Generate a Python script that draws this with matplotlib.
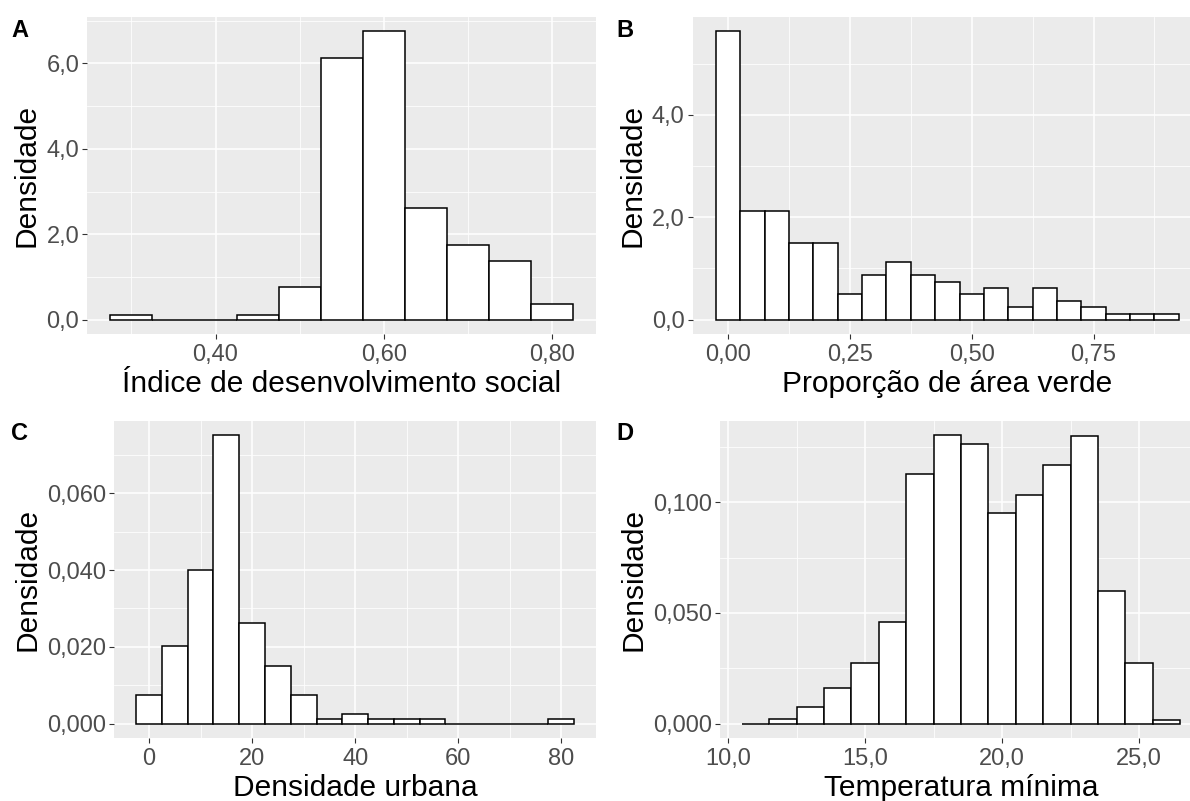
import numpy as np
import matplotlib
matplotlib.use("Agg")
import matplotlib.pyplot as plt
from matplotlib.ticker import FixedLocator, FuncFormatter

plt.rcParams['font.family'] = ['Liberation Sans', 'DejaVu Sans']

# A - Indice de desenvolvimento social (bin width 0.05)
ids_centers = [0.30, 0.35, 0.40, 0.45, 0.50, 0.55, 0.60, 0.65, 0.70, 0.75, 0.80]
ids_density = [0.117, 0.0, 0.0, 0.117, 0.756, 6.12, 6.75, 2.62, 1.74, 1.38, 0.366]

# B - Proporcao de area verde (bin width 0.05)
verde_centers = [0.00, 0.05, 0.10, 0.15, 0.20, 0.25, 0.30, 0.35, 0.40, 0.45,
                 0.50, 0.55, 0.60, 0.65, 0.70, 0.75, 0.80, 0.85, 0.90]
verde_density = [5.63, 2.12, 2.12, 1.49, 1.49, 0.494, 0.872, 1.119, 0.872, 0.741,
                 0.494, 0.624, 0.247, 0.624, 0.371, 0.247, 0.117, 0.117, 0.117]

# C - Densidade urbana (bin width 5)
urb_centers = [0, 5, 10, 15, 20, 25, 30, 35, 40, 45, 50, 55, 60, 65, 70, 75, 80]
urb_density = [0.0075, 0.0201, 0.0400, 0.0751, 0.0263, 0.0151, 0.0075, 0.0012, 0.0024,
               0.0012, 0.0012, 0.0012, 0.0, 0.0, 0.0, 0.0, 0.0012]

# D - Temperatura minima (bin width 1)
temp_centers = [11, 12, 13, 14, 15, 16, 17, 18, 19, 20, 21, 22, 23, 24, 25, 26]
temp_density = [0.0, 0.0023, 0.0074, 0.0161, 0.0273, 0.0458, 0.1128, 0.1302, 0.1264,
                0.0952, 0.1032, 0.117, 0.1299, 0.0601, 0.0273, 0.0014]

W, H = 1190, 801
fig = plt.figure(figsize=(W / 100, H / 100), dpi=100)


def px_axes(x0, x1, y0, y1):
    return fig.add_axes([x0 / W, 1 - y1 / H, (x1 - x0) / W, (y1 - y0) / H])


def comma_fmt(decimals):
    return FuncFormatter(lambda v, p: f"{v:.{decimals}f}".replace('.', ','))


def histpanel(ax, centers, dens, width, xmaj, xmin, ymaj, ymin, xdec, ydec, xlabel):
    ax.set_facecolor('#EBEBEB')
    ax.bar(centers, dens, width=width, color='white', edgecolor='black',
           linewidth=1.1, zorder=3)
    lo = centers[0] - width / 2
    hi = centers[-1] + width / 2
    top = max(dens)
    ax.set_xlim(lo - 0.05 * (hi - lo), hi + 0.05 * (hi - lo))
    ax.set_ylim(-0.05 * top, 1.05 * top)
    ax.xaxis.set_major_locator(FixedLocator(xmaj))
    ax.xaxis.set_minor_locator(FixedLocator(xmin))
    ax.yaxis.set_major_locator(FixedLocator(ymaj))
    ax.yaxis.set_minor_locator(FixedLocator(ymin))
    ax.xaxis.set_major_formatter(comma_fmt(xdec))
    ax.yaxis.set_major_formatter(comma_fmt(ydec))
    ax.grid(which='major', color='white', linewidth=1.1, zorder=0)
    ax.grid(which='minor', color='white', linewidth=0.55, zorder=0)
    ax.set_axisbelow(True)
    for s in ax.spines.values():
        s.set_visible(False)
    ax.tick_params(which='major', length=3.3, width=0.8, color='#333333',
                   labelcolor='#4D4D4D', labelsize=17, pad=2.5)
    ax.tick_params(axis='x', which='major', pad=4)
    ax.tick_params(which='minor', length=0)
    ax.set_xlabel(xlabel, fontsize=21.5, color='black', labelpad=3)
    ax.set_ylabel('Densidade', fontsize=21.5, color='black', labelpad=4)


axA = px_axes(87.3, 596, 17, 334)
histpanel(axA, ids_centers, ids_density, 0.05,
          [0.4, 0.6, 0.8], [0.3, 0.5, 0.7], [0, 2, 4, 6], [1, 3, 5, 7],
          2, 1, 'Índice de desenvolvimento social')

axB = px_axes(692.7, 1202, 17, 334)
histpanel(axB, verde_centers, verde_density, 0.05,
          [0, 0.25, 0.5, 0.75], [0.125, 0.375, 0.625, 0.875], [0, 2, 4], [1, 3, 5],
          2, 1, 'Proporção de área verde')

axC = px_axes(114.3, 596, 421, 738)
histpanel(axC, urb_centers, urb_density, 5,
          [0, 20, 40, 60, 80], [10, 30, 50, 70], [0, 0.02, 0.04, 0.06],
          [0.01, 0.03, 0.05, 0.07], 0, 3, 'Densidade urbana')

axD = px_axes(720, 1202, 421, 738)
histpanel(axD, temp_centers, temp_density, 1,
          [10, 15, 20, 25], [12.5, 17.5, 22.5], [0, 0.05, 0.1], [0.025, 0.075, 0.125],
          1, 3, 'Temperatura mínima')

for lab, x, y in [('A', 11, 19), ('B', 616, 19), ('C', 11, 422), ('D', 616, 422)]:
    fig.text(x / W, 1 - y / H, lab, fontsize=17, fontweight='bold', va='top', ha='left')

fig.savefig('out.png', dpi=100)
